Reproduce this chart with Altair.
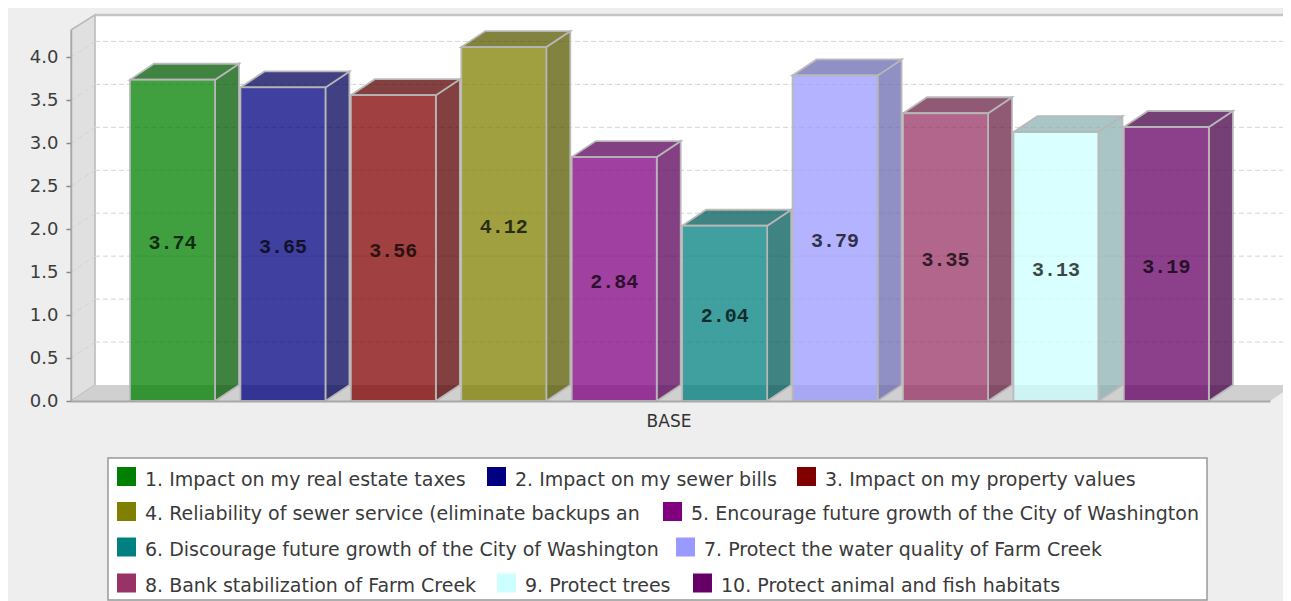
import altair as alt
import pandas as pd

category = "BASE"
labels = [
    "1. Impact on my real estate taxes",
    "2. Impact on my sewer bills",
    "3. Impact on my property values",
    "4. Reliability of sewer service (eliminate backups an",
    "5. Encourage future growth of the City of Washington",
    "6. Discourage future growth of the City of Washington",
    "7. Protect the water quality of Farm Creek",
    "8. Bank stabilization of Farm Creek",
    "9. Protect trees",
    "10. Protect animal and fish habitats",
]
values = [3.74, 3.65, 3.56, 4.12, 2.84, 2.04, 3.79, 3.35, 3.13, 3.19]
colors = ["#008000", "#000080", "#800000", "#808000", "#800080",
          "#008080", "#9999ff", "#993366", "#ccffff", "#660066"]
ticks = [0.0, 0.5, 1.0, 1.5, 2.0, 2.5, 3.0, 3.5, 4.0]

# layout (pixels of the page)
PAGE_L, PAGE_T, PLOT_W, PLOT_H = 71, 30, 1199, 371
PER_UNIT = 85.9
DX, DY = 24, 16 / PER_UNIT
SLOT, FIRST, BAR_W = 110.43, 59, 85
TOP = PLOT_H / PER_UNIT
RIGHT = PLOT_W
TOTAL_W, TOTAL_H = 1275, 593

legend_rows = [
    (476.5, 480, [(0, 117), (1, 487), (2, 797)]),
    (511.5, 514, [(3, 117), (4, 663)]),
    (547, 550, [(5, 117), (6, 676)]),
    (583, 586, [(7, 117), (8, 497), (9, 693)]),
]
SW, SH = 19, 19
TEXT_GAP = 28
LEG_BOX = (108, 458, 1207, 600)


def px(x):
    return x - PAGE_L


def py(y):
    return (PAGE_T + PLOT_H - y) / PER_UNIT


def darker(hex_color):
    c = [int(hex_color[i:i + 2], 16) for i in (1, 3, 5)]
    return "#%02x%02x%02x" % tuple(int(v * 0.7) for v in c)


xs = alt.Scale(domain=[0, PLOT_W], nice=False, zero=False)
ys = alt.Scale(domain=[0, TOP], nice=False, zero=False)


def X(f="x", **k):
    return alt.X(f"{f}:Q", scale=xs, title=None, **k)


def Y(f="y", **k):
    return alt.Y(f"{f}:Q", scale=ys, title=None, **k)


X2 = alt.X2("x2:Q")
Y2 = alt.Y2("y2:Q")
GREY = "#b8b8b8"
WALL_TOP = TOP + DY * 0.94

# walls and floor
back = pd.DataFrame([{"x": DX, "x2": RIGHT + DX + 40, "y": DY, "y2": WALL_TOP}])
back_wall = alt.Chart(back).mark_rect(fill="white").encode(x=X(), x2=X2, y=Y(), y2=Y2)

left = pd.DataFrame([{"x": 0, "y": 0, "y2": TOP}, {"x": DX, "y": DY, "y2": WALL_TOP}])
left_wall = alt.Chart(left).mark_area(fill="#e0e0e0", stroke=GREY, strokeWidth=1.5).encode(
    x=X(), y=Y(stack=None), y2=Y2)

floor = pd.DataFrame([
    {"x": 0, "y": 0, "y2": 0},
    {"x": DX, "y": 0, "y2": DY},
    {"x": RIGHT, "y": 0, "y2": DY},
    {"x": RIGHT + DX, "y": DY, "y2": DY},
])
floor_l = alt.Chart(floor).mark_area(fill="#d0d0d0").encode(x=X(), y=Y(stack=None), y2=Y2)

edge_top = pd.DataFrame([{"x": DX, "x2": RIGHT + DX + 40, "y": WALL_TOP}])
edge_top_l = alt.Chart(edge_top).mark_rule(stroke="#c4c4c4", strokeWidth=2.5).encode(x=X(), x2=X2, y=Y())

# gridlines
grid = pd.DataFrame([{"x": DX, "x2": RIGHT + DX + 40, "y": t + DY} for t in ticks[1:]])
grid_l = alt.Chart(grid).mark_rule(stroke="#d4d4d4", strokeWidth=1, strokeDash=[5, 3]).encode(
    x=X(), x2=X2, y=Y())
slant = pd.DataFrame(
    [{"x": 0, "y": t, "t": t} for t in ticks[1:]] + [{"x": DX, "y": t + DY, "t": t} for t in ticks[1:]]
)
slant_l = alt.Chart(slant).mark_line(stroke="#d4d4d4", strokeWidth=1, strokeDash=[5, 3]).encode(
    x=X(), y=Y(), detail="t:Q")

# bars
front_rows, side_rows, top_rows, text_rows = [], [], [], []
for i, (v, c) in enumerate(zip(values, colors)):
    l = FIRST + SLOT * i
    r = l + BAR_W
    d = darker(c)
    front_rows.append({"x": l, "x2": r, "y": 0, "y2": v, "c": c})
    side_rows += [
        {"x": r, "y": 0, "y2": v, "c": d, "b": i},
        {"x": r + DX, "y": DY, "y2": v + DY, "c": d, "b": i},
    ]
    top_rows += [
        {"x": l, "y": v, "y2": v, "c": d, "b": i},
        {"x": l + DX, "y": v, "y2": v + DY, "c": d, "b": i},
        {"x": r, "y": v, "y2": v + DY, "c": d, "b": i},
        {"x": r + DX, "y": v + DY, "y2": v + DY, "c": d, "b": i},
    ]
    text_rows.append({"x": (l + r) / 2, "y": v / 2, "t": f"{v:.2f}"})

face = dict(stroke=GREY, strokeWidth=1.8, fillOpacity=0.75, strokeOpacity=0.95)
side_l = alt.Chart(pd.DataFrame(side_rows)).mark_area(**face).encode(
    x=X(), y=Y(stack=None), y2=Y2, detail="b:N", fill=alt.Fill("c:N", scale=None))
top_l = alt.Chart(pd.DataFrame(top_rows)).mark_area(**face).encode(
    x=X(), y=Y(stack=None), y2=Y2, detail="b:N", fill=alt.Fill("c:N", scale=None))
front_l = alt.Chart(pd.DataFrame(front_rows)).mark_rect(**face).encode(
    x=X(), x2=X2, y=Y(), y2=Y2, fill=alt.Fill("c:N", scale=None))
text_l = alt.Chart(pd.DataFrame(text_rows)).mark_text(
    font="Liberation Mono", fontWeight="bold", fontSize=20, fill="black", opacity=0.72,
    baseline="middle", align="center", dy=3,
).encode(x=X(), y=Y(), text="t:N")

# axes
axis_l = alt.Chart(pd.DataFrame([{"x": 0, "y": 0}])).mark_point(opacity=0).encode(
    x=X(axis=alt.Axis(values=[597.5], labelExpr=f"'{category}'", ticks=False, grid=False,
                      domainColor="#a8a8a8", domainWidth=2, labelFont="DejaVu Sans", labelFontSize=17,
                      labelColor="#333333", labelPadding=12, zindex=1)),
    y=Y(axis=alt.Axis(values=ticks, format=".1f", grid=False, domainColor="#a8a8a8", domainWidth=1.5,
                      tickColor="#888888", tickSize=5, tickWidth=1.5, labelFont="DejaVu Sans",
                      labelFontSize=18, labelColor="#3c3c3c", labelPadding=8, zindex=1)),
)

# legend
box = pd.DataFrame([{"x": px(LEG_BOX[0]), "x2": px(LEG_BOX[2]), "y": py(LEG_BOX[1]), "y2": py(LEG_BOX[3])}])
box_l = alt.Chart(box).mark_rect(fill="white", stroke="#999999", strokeWidth=1.5).encode(
    x=X(), x2=X2, y=Y(), y2=Y2)
sw_rows, lab_rows = [], []
for sy, ty, items in legend_rows:
    for idx, x0 in items:
        sw_rows.append({"x": px(x0), "x2": px(x0 + SW), "y": py(sy - SH / 2), "y2": py(sy + SH / 2), "c": colors[idx]})
        lab_rows.append({"x": px(x0 + TEXT_GAP), "y": py(ty), "t": labels[idx]})
sw_l = alt.Chart(pd.DataFrame(sw_rows)).mark_rect().encode(
    x=X(), x2=X2, y=Y(), y2=Y2, fill=alt.Fill("c:N", scale=None))
lab_l = alt.Chart(pd.DataFrame(lab_rows)).mark_text(
    font="DejaVu Sans", fontSize=19, fill="#3a3a3a", align="left", baseline="middle"
).encode(x=X(), y=Y(), text="t:N")

chart = alt.layer(
    axis_l, back_wall, left_wall, floor_l, edge_top_l, grid_l, slant_l,
    side_l, top_l, front_l, text_l, box_l, sw_l, lab_l,
).properties(
    width=PLOT_W, height=PLOT_H, background="#eeeeee", autosize="none",
    padding={"left": PAGE_L - 8, "top": PAGE_T - 8, "right": TOTAL_W - (PAGE_L - 8) - PLOT_W,
             "bottom": TOTAL_H - (PAGE_T - 8) - PLOT_H},
).configure_view(stroke=None)

chart.save("out.html", embed_options={"renderer": "svg", "actions": False})
